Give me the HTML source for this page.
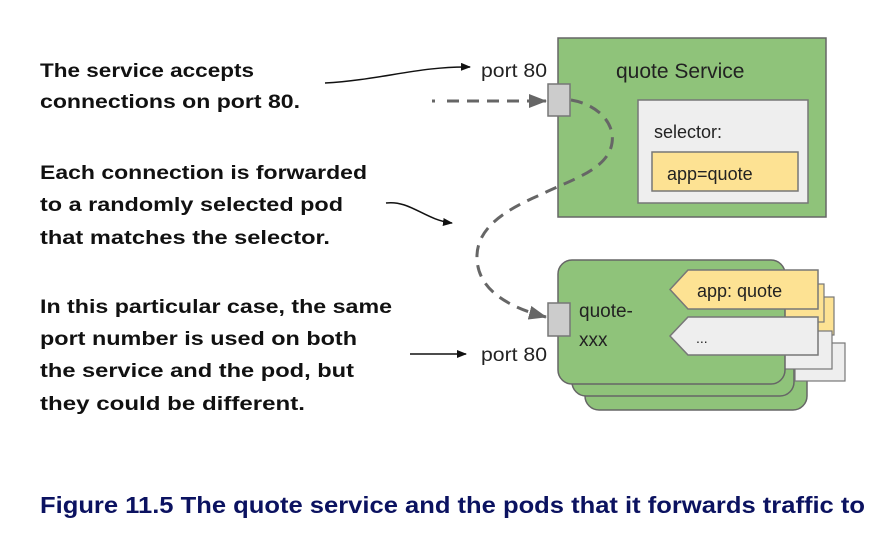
<!DOCTYPE html>
<html><head><meta charset="utf-8"><style>
html,body{margin:0;padding:0;background:#fff;}
svg{display:block;}
</style></head><body>
<svg width="894" height="552" viewBox="0 0 894 552" xmlns="http://www.w3.org/2000/svg">
<defs>
<marker id="ah" markerWidth="10" markerHeight="8" refX="9" refY="4" orient="auto" markerUnits="userSpaceOnUse"><path d="M0,0 L10,4 L0,8 z" fill="#111"/></marker>
<marker id="ahg" markerWidth="18" markerHeight="14" refX="17" refY="7" orient="auto" markerUnits="userSpaceOnUse"><path d="M0,0 L18,7 L0,14 z" fill="#666"/></marker>
</defs>
<g font-family="Liberation Sans, sans-serif" font-weight="bold" font-size="19" fill="#111">
<text x="40" y="77" textLength="214" lengthAdjust="spacingAndGlyphs">The service accepts</text>
<text x="40" y="108" textLength="260" lengthAdjust="spacingAndGlyphs">connections on port 80.</text>
<text x="40" y="179" textLength="327" lengthAdjust="spacingAndGlyphs">Each connection is forwarded</text>
<text x="40" y="211" textLength="303" lengthAdjust="spacingAndGlyphs">to a randomly selected pod</text>
<text x="40" y="244" textLength="290" lengthAdjust="spacingAndGlyphs">that matches the selector.</text>
<text x="40" y="313" textLength="352" lengthAdjust="spacingAndGlyphs">In this particular case, the same</text>
<text x="40" y="345" textLength="317" lengthAdjust="spacingAndGlyphs">port number is used on both</text>
<text x="40" y="377" textLength="314" lengthAdjust="spacingAndGlyphs">the service and the pod, but</text>
<text x="40" y="410" textLength="265" lengthAdjust="spacingAndGlyphs">they could be different.</text>
</g>
<path d="M325,83 C380,80 420,66 470,67" fill="none" stroke="#111" stroke-width="1.5" marker-end="url(#ah)"/>
<path d="M386,203 C410,200 425,220 452,223" fill="none" stroke="#111" stroke-width="1.5" marker-end="url(#ah)"/>
<path d="M410,354 L466,354" fill="none" stroke="#111" stroke-width="1.5" marker-end="url(#ah)"/>
<rect x="558" y="38" width="268" height="179" fill="#8fc37a" stroke="#666" stroke-width="1.5"/>
<rect x="638" y="100" width="170" height="103" fill="#eeeeee" stroke="#777" stroke-width="1.5"/>
<rect x="652" y="152" width="146" height="39" fill="#fde293" stroke="#777" stroke-width="1.5"/>
<g font-family="Liberation Sans, sans-serif" fill="#222">
<text x="616" y="78" font-size="21">quote Service</text>
<text x="654" y="138" font-size="18">selector:</text>
<text x="667" y="180" font-size="18">app=quote</text>
<text x="481" y="77" font-size="19" textLength="66" lengthAdjust="spacingAndGlyphs">port 80</text>
<text x="481" y="361" font-size="19" textLength="66" lengthAdjust="spacingAndGlyphs">port 80</text>
</g>
<rect x="585" y="288" width="222" height="122" rx="14" fill="#8fc37a" stroke="#666" stroke-width="1.5"/>
<rect x="572" y="274" width="222" height="122" rx="14" fill="#8fc37a" stroke="#666" stroke-width="1.5"/>
<rect x="790" y="297" width="44" height="38" fill="#fde293" stroke="#777" stroke-width="1.2"/>
<rect x="780" y="284" width="44" height="38" fill="#fde293" stroke="#777" stroke-width="1.2"/>
<rect x="795" y="343" width="50" height="38" fill="#eeeeee" stroke="#777" stroke-width="1.2"/>
<rect x="780" y="331" width="52" height="38" fill="#eeeeee" stroke="#777" stroke-width="1.2"/>
<rect x="558" y="260" width="227" height="124" rx="14" fill="#8fc37a" stroke="#666" stroke-width="1.5"/>
<polygon points="688,270 818,270 818,309 688,309 670,289.5" fill="#fde293" stroke="#777" stroke-width="1.5"/>
<polygon points="688,317 818,317 818,355 688,355 670,336" fill="#eeeeee" stroke="#777" stroke-width="1.5"/>
<g font-family="Liberation Sans, sans-serif" fill="#222">
<text x="697" y="297" font-size="18">app: quote</text>
<text x="696" y="343" font-size="14">...</text>
<text x="579" y="317" font-size="19">quote-</text>
<text x="579" y="346" font-size="19">xxx</text>
</g>
<rect x="548" y="84" width="22" height="32" fill="#cccccc" stroke="#777" stroke-width="1.5"/>
<rect x="548" y="303" width="22" height="33" fill="#cccccc" stroke="#777" stroke-width="1.5"/>
<path d="M432,101 L546,101" fill="none" stroke="#666" stroke-width="3" stroke-dasharray="3,12,12,8,12,8,12,8,12,8" marker-end="url(#ahg)"/>
<path d="M571,100 C600,105 615,125 612,143 C608,170 570,180 540,195 C500,212 478,230 477,255 C476,285 500,305 546,317" fill="none" stroke="#666" stroke-width="3" stroke-dasharray="12,8" marker-end="url(#ahg)"/>
<text x="40" y="513" font-family="Liberation Sans Narrow, Liberation Sans, sans-serif" font-weight="bold" font-size="23" fill="#0b1260" textLength="825" lengthAdjust="spacingAndGlyphs">Figure 11.5 The quote service and the pods that it forwards traffic to</text>
</svg>
</body></html>
